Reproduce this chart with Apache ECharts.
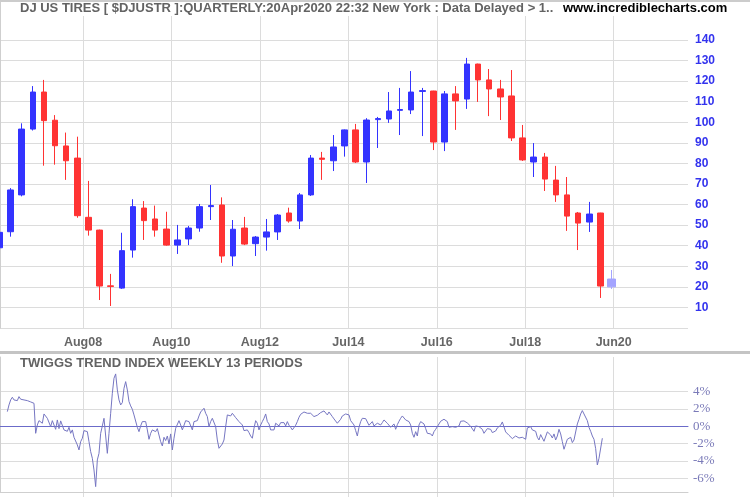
<!DOCTYPE html>
<html><head><meta charset="utf-8">
<script src="https://cdn.jsdelivr.net/npm/echarts@6/dist/echarts.min.js"></script>
<style>html,body{margin:0;padding:0;background:#fff}#c{width:750px;height:500px}</style>
</head><body><div id="c"></div>
<script>
// ---------- DATA ----------
const quarters = ['2006Q3','2006Q4',
 '2007Q1','2007Q2','2007Q3','2007Q4','2008Q1','2008Q2','2008Q3','2008Q4',
 '2009Q1','2009Q2','2009Q3','2009Q4','2010Q1','2010Q2','2010Q3','2010Q4',
 '2011Q1','2011Q2','2011Q3','2011Q4','2012Q1','2012Q2','2012Q3','2012Q4',
 '2013Q1','2013Q2','2013Q3','2013Q4','2014Q1','2014Q2','2014Q3','2014Q4',
 '2015Q1','2015Q2','2015Q3','2015Q4','2016Q1','2016Q2','2016Q3','2016Q4',
 '2017Q1','2017Q2','2017Q3','2017Q4','2018Q1','2018Q2','2018Q3','2018Q4',
 '2019Q1','2019Q2','2019Q3','2019Q4','2020Q1','2020Q2'];
const openP  = [39, 46.8, 64.7, 96.7, 114.7, 101, 88.5, 82.6, 53.8, 47.6, 20.5, 19.4, 37.9, 58.3, 53, 48.1, 40.3, 43.3, 48.6, 59, 59.8, 35, 48.6, 41, 44.2, 46.7, 55.9, 52, 64.7, 82.6, 81.3, 88.5, 96.3, 80.7, 101.3, 101.6, 105.8, 106, 115, 115.2, 90.4, 113.8, 111.3, 128.3, 120.6, 116.2, 112.8, 92.4, 80.7, 83.1, 71.9, 64.7, 55.9, 51.5, 55.9, 20];
const closeP = [46.5, 67.1, 96.7, 114.7, 100.8, 88.6, 81.3, 54.6, 47.6, 20.4, 20.2, 37.6, 59, 52.2, 47.6, 40.3, 42.8, 48.6, 59, 59.5, 35, 48, 40.8, 44.2, 46.7, 54.9, 52, 64.7, 82.6, 82, 88, 96.3, 80.7, 101.1, 101.8, 105.5, 106.2, 114.7, 115.4, 90.4, 113.8, 110.4, 128.3, 120.6, 116.2, 112.3, 92.4, 81.7, 83.1, 72.4, 64.7, 54.4, 51, 55.4, 20.4, 23.8];
const lowP   = [38, 44.4, 64, 96, 78.9, 79.4, 72, 53.6, 44.9, 13.6, 10.7, 19, 34.2, 42.8, 44.4, 40, 36, 40.3, 46.8, 52.5, 31.7, 30.1, 40.3, 35, 37.6, 42.8, 51.2, 48.1, 64.2, 72, 76.3, 83.3, 80.2, 70.5, 87.5, 99.7, 93.8, 104, 93.3, 86.5, 86, 96.3, 106.5, 109.9, 103, 101.1, 90.9, 81.2, 73.4, 66.6, 61.3, 47.2, 37.9, 46.7, 14.6, 19];
const highP  = [47, 68, 99.5, 117.6, 120.6, 103.5, 95, 93, 71.5, 47.8, 26.3, 46.3, 62.6, 61.7, 59.5, 56.5, 50.1, 49.6, 60.3, 69.5, 63.5, 52.5, 54, 44.7, 53, 55.4, 58.5, 65.6, 84.1, 85.6, 93.8, 96.5, 99.2, 102, 102.6, 114.7, 116.7, 124.9, 116.7, 115.3, 115.2, 117.6, 131.3, 128.5, 125.9, 120.6, 125.4, 98.7, 89.9, 85.1, 78.8, 73.4, 56.4, 61.3, 56, 28.2];
const xTickLabels = ['Aug08','Aug10','Aug12','Jul14','Jul16','Jul18','Jun20'];
const priceRange = [0, 140, 10];     // min, max, step of price axis
const ttiRange = [-6, 4, 2];         // min, max, step of TTI axis
// Twiggs Trend Index, weekly 13 periods (% values, read roughly every second week)
const tti = [
 1.69,2.46,3.04,3.35,3.04,3.15,2.96,3.42,3.12,3.31,
 3.04,3.19,2.96,3.08,2.81,2.96,2.65,-0.81,0.15,0.65,
 0.73,0.35,1.42,1.31,0.92,1.12,-0.04,0.65,0.15,-0.35,
 0.73,-0.27,0.62,0.73,-0.42,-0.23,-0.58,-0.12,-0.81,-0.42,
 -1.27,-1.12,-2.15,-2.73,-1.77,-1.38,-0.5,-0.35,-0.62,-1.77,
 -2.92,-3.69,-5.04,-6.96,-3.88,-3.12,-0.81,0.04,0.92,1.12,
 -3.12,-0.81,1.5,3.81,5.54,6.04,4.19,3.04,2.46,2.73,
 4.38,5.15,4.19,2.85,2.35,1.96,1.31,1.42,-0.12,-0.62,
 0.04,0.54,0.73,0.54,-0.42,-1.5,-0.81,-0.42,-0.54,-0.62,
 -0.27,-0.35,-1.77,-2.27,-1.27,-1.65,-1.12,-2.04,-0.88,-2.73,
 -1.38,-0.23,-0.12,0.65,0.15,-0.42,-0.23,0.65,0.81,0.54,
 0.65,-0.42,0.54,0.73,0.65,1.19,1.65,1.58,2.08,1.5,
 1.12,-0.04,0.54,0.92,0.73,-0.04,-1.58,-2.54,-2.73,-2.04,
 -1.58,-0.04,1.31,1.5,
 1.19,1.5,1.58,1.0,0.92,0.54,0.65,0.15,-0.5,-0.65,
 -0.42,-0.73,-1.12,-1.38,-0.23,0.65,0.35,-0.42,0.15,0.54,
 0.92,1.42,0.54,0.27,-0.42,-0.27,-0.42,0.35,0.42,0.04,
 0.42,0.27,0.42,0.04,0.54,0.12,-0.12,-0.42,-0.5,0.12,
 0.54,1.04,1.38,1.58,1.65,1.42,1.5,1.73,1.5,1.38,
 1.12,0.96,1.27,1.42,1.58,1.65,1.77,1.88,1.31,1.65,
 1.42,1.12,0.85,0.65,0.35,0.42,0.81,1.19,1.38,1.42,
 1.42,1.31,0.65,0.42,0.15,-0.5,-1.12,-0.12,0.54,0.92,
 1.12,0.88,0.65,0.12,0.04,0.54,0.04,0.19,0.35,0.42,
 0.15,0.42,0.73,0.58,0.35,0.23,-0.12,0.08,0.27,-0.35,
 0.19,0.58,0.92,1.19,1.27,0.73,0.88,0.54,0.15,-0.81,
 -1.27,-0.62,-1.12,0.15,0.54,0.42,0.27,-0.27,-0.81,-1.04,
 -0.88,-1.12,-0.62,-0.35,-0.04,0.27,0.58,0.73,0.81,0.92,
 0.54,-0.12,-0.35,-0.04,0.12,-0.12,-0.19,0.04,
 0.58,0.73,0.62,0.5,0.38,0.27,0,-0.12,-0.58,0.04,
 0.12,-0.04,0.19,-0.35,-0.81,-0.54,-0.27,-0.15,-0.35,-0.73,
 -0.96,-0.54,-0.19,0,0.12,0.5,0.35,-0.65,-0.88,-1.04,
 -1.19,-1.42,-1.23,-1.12,-1.04,-1.35,-1.5,-1.27,-1.12,-1.5,
 -0.19,-0.04,-0.04,-0.42,-0.19,-0.58,-1.27,-1.58,-0.96,-0.88,
 -1.73,-1.96,-0.65,-0.81,-1.0,-1.35,-0.88,-1.58,-1.12,-0.35,
 -0.88,-1.77,-2.65,-2.08,-1.5,-1.27,-1.27,-1.88,-1.58,-1.65,
 0.27,0.81,1.42,1.81,1.42,1.19,0.65,-0.12,-0.58,-1.12,
 -1.5,-2.58,-4.46,-3.69,-3.88,-1.38
];

// ---------- CHART ----------
const SANS = '"Liberation Sans", Arial, sans-serif';
const SERIF = '"Liberation Serif", "Times New Roman", serif';
const GRID = '#dcdcdc';
const FRAME = '#cfcfcf';
const tickSlots = [''].concat(xTickLabels, ['']);
const weekIdx = tti.map((_, i) => 'w' + i);
const lastIdx = quarters.length - 1;

const ohlc = (i) => [openP[i], closeP[i], lowP[i], highP[i]];
// completed quarters
const candleData = quarters.map((q, i) => (i === lastIdx ? '-' : ohlc(i)));
// current (partial) quarter, drawn lighter and wider
const currentData = quarters.map((q, i) => (i === lastIdx ? ohlc(i) : '-'));

const hiddenVal = (gi, min, max) => ({ type: 'value', gridIndex: gi, min: min, max: max, show: false });
const G = (o) => Object.assign({ outerBoundsMode: 'none', containLabel: false }, o);

const option = {
  animation: false,
  backgroundColor: '#ffffff',
  title: [
    { text: 'DJ US TIRES [ $DJUSTR ]:QUARTERLY:20Apr2020 22:32 New York : Data Delayed > 1..',
      left: 20, top: 2, padding: 0,
      textStyle: { color: '#636363', fontFamily: SANS, fontWeight: 'bold', fontSize: 13 } },
    { text: 'www.incrediblecharts.com', left: 563, top: 2, padding: 0,
      textStyle: { color: '#000000', fontFamily: SANS, fontWeight: 'bold', fontSize: 13 } },
    { text: 'TWIGGS TREND INDEX WEEKLY 13 PERIODS', left: 20, top: 357, padding: 0,
      textStyle: { color: '#636363', fontFamily: SANS, fontWeight: 'bold', fontSize: 13 } }
  ],
  graphic: [
    { type: 'rect', shape: { x: 0, y: 0, width: 750, height: 2 }, style: { fill: '#cccccc' }, silent: true },
    { type: 'rect', shape: { x: 0, y: 351, width: 750, height: 3 }, style: { fill: '#c4c4c4' }, silent: true }
  ],
  grid: [
    G({ left: 0, top: 40, width: 688, height: 288 }),            // 0 price labels + horizontal grid
    G({ left: -6.17, top: 40, width: 623.3, height: 288 }),      // 1 candles
    G({ left: 0, top: 2, width: 688, height: 326 }),             // 2 main frame
    G({ left: -5.45, top: 16, width: 707.6, height: 312 }),      // 3 main vertical grid + x labels
    G({ left: 0, top: 391.6, width: 688, height: 86.7 }),        // 4 TTI labels + horizontal grid
    G({ left: 7.33, top: 391.6, width: 595, height: 86.7 }),     // 5 TTI line
    G({ left: 0, top: 357, width: 688, height: 135 }),           // 6 lower frame
    G({ left: -5.45, top: 357, width: 707.6, height: 140 })      // 7 lower vertical grid
  ],
  xAxis: [
    hiddenVal(0, 0, 1),
    { type: 'category', gridIndex: 1, data: quarters, boundaryGap: true, show: false },
    hiddenVal(2, 0, 1),
    { type: 'category', gridIndex: 3, data: tickSlots, boundaryGap: false,
      axisLine: { show: false }, axisTick: { show: false },
      axisLabel: { interval: 0, color: '#666666', fontFamily: SANS, fontWeight: 'bold', fontSize: 12.5, margin: 8 },
      splitLine: { show: true, interval: (i) => tickSlots[i] !== '', lineStyle: { color: GRID, width: 1 } } },
    { type: 'value', gridIndex: 4, min: 0, max: 1,
      axisLine: { show: true, onZero: true, lineStyle: { color: '#6b6bc9', width: 1 } },
      axisTick: { show: false }, axisLabel: { show: false }, splitLine: { show: false } },
    { type: 'category', gridIndex: 5, data: weekIdx, boundaryGap: false, show: false },
    { type: 'value', gridIndex: 6, min: 0, max: 1,
      axisLine: { show: true, onZero: false, lineStyle: { color: FRAME, width: 1 } },
      axisTick: { show: false }, axisLabel: { show: false }, splitLine: { show: false } },
    { type: 'category', gridIndex: 7, data: tickSlots, boundaryGap: false,
      axisLine: { show: false }, axisTick: { show: false }, axisLabel: { show: false },
      splitLine: { show: true, interval: (i) => tickSlots[i] !== '', lineStyle: { color: GRID, width: 1 } } }
  ],
  yAxis: [
    { type: 'value', gridIndex: 0, position: 'right', min: priceRange[0], max: priceRange[1], interval: priceRange[2],
      axisLine: { show: false }, axisTick: { show: false },
      axisLabel: { color: '#3333ee', fontFamily: SANS, fontWeight: 'bold', fontSize: 12, margin: 7, align: 'left',
        formatter: (v) => (v === 0 ? '' : String(v)) },
      splitLine: { show: true, lineStyle: { color: GRID, width: 1 } } },
    hiddenVal(1, priceRange[0], priceRange[1]),
    { type: 'value', gridIndex: 2, position: 'right', min: 0, max: 1,
      axisLine: { show: true, lineStyle: { color: FRAME, width: 1 } },
      axisTick: { show: false }, axisLabel: { show: false }, splitLine: { show: false } },
    hiddenVal(3, 0, 1),
    { type: 'value', gridIndex: 4, position: 'right', min: ttiRange[0], max: ttiRange[1], interval: ttiRange[2],
      axisLine: { show: false }, axisTick: { show: false },
      axisLabel: { color: '#7a7ab8', fontFamily: SERIF, fontSize: 13, margin: 5, align: 'left',
        formatter: (v) => v + '%' },
      splitLine: { show: true, lineStyle: { color: GRID, width: 1 } } },
    hiddenVal(5, ttiRange[0], ttiRange[1]),
    { type: 'value', gridIndex: 6, position: 'right', min: 0, max: 1,
      axisLine: { show: true, lineStyle: { color: FRAME, width: 1 } },
      axisTick: { show: false }, axisLabel: { show: false }, splitLine: { show: false } },
    hiddenVal(7, 0, 1)
  ],
  series: [
    { type: 'candlestick', xAxisIndex: 1, yAxisIndex: 1, barWidth: 6, data: candleData,
      itemStyle: { color: '#3333ff', color0: '#ff3333', borderColor: '#3333ff', borderColor0: '#ff3333', borderWidth: 1 } },
    { type: 'candlestick', xAxisIndex: 1, yAxisIndex: 1, barWidth: 8, data: currentData,
      itemStyle: { color: '#a4a4ff', color0: '#ffa4a4', borderColor: '#a4a4ff', borderColor0: '#ffa4a4', borderWidth: 1 } },
    { type: 'line', xAxisIndex: 5, yAxisIndex: 5, data: tti, clip: false, symbol: 'none', showSymbol: false,
      lineStyle: { color: '#7676c2', width: 1 } }
  ]
};

const chart = echarts.init(document.getElementById('c'), null, { renderer: 'canvas' });
chart.setOption(option);
</script>
</body></html>
